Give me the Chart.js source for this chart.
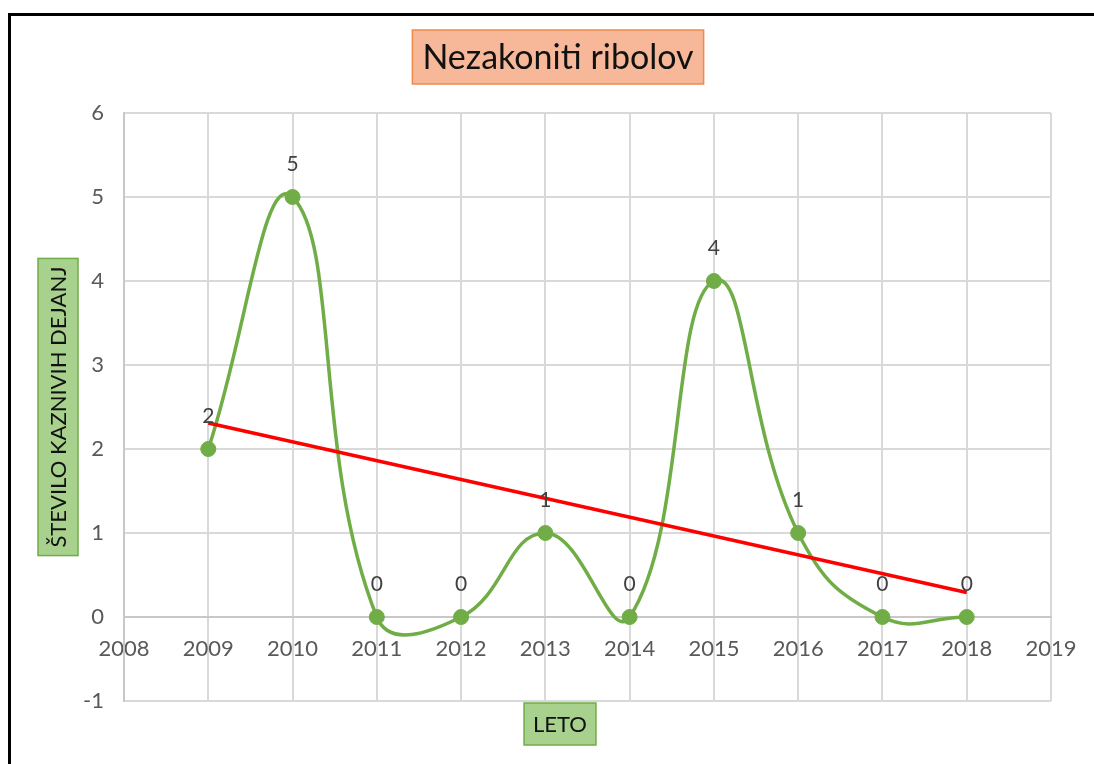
<!DOCTYPE html>
<html>
<head>
<meta charset="utf-8">
<title>Nezakoniti ribolov</title>
<script src="https://cdn.jsdelivr.net/npm/chart.js@4.4.0/dist/chart.umd.min.js"></script>
<style>
    html, body { margin: 0; padding: 0; background: #fff; overflow: hidden; }
    #wrap { position: relative; width: 1094px; height: 764px; }
    #wrap canvas { position: absolute; left: 0; top: 0; }
    #frame { position: absolute; left: 8px; top: 13px; width: 1200px; height: 900px;
             border-top: 3px solid #000; border-left: 3px solid #000; pointer-events: none; }
</style>
</head>
<body>
<div id="wrap">
    <canvas id="ribolovChart" width="1094" height="764"></canvas>
    <div id="frame"></div>
</div>
<script>
var chartTitle = 'Nezakoniti ribolov';
var xTitle = 'LETO';
var yTitle = 'ŠTEVILO KAZNIVIH DEJANJ';

var years = [2009, 2010, 2011, 2012, 2013, 2014, 2015, 2016, 2017, 2018];
var offences = [2, 5, 0, 0, 1, 0, 4, 1, 0, 0];

var xRange = [2008, 2019];
var yRange = [-1, 6];

var fontFamily = 'Lato, "Open Sans", sans-serif';

// linear trendline (least squares), like Excel's "Linear" trendline
function trendPoints(xs, ys) {
    var n = xs.length, sx = 0, sy = 0, sxx = 0, sxy = 0;
    for (var i = 0; i < n; i++) {
        sx += xs[i]; sy += ys[i];
        sxx += xs[i] * xs[i]; sxy += xs[i] * ys[i];
    }
    var b = (n * sxy - sx * sy) / (n * sxx - sx * sx);
    var a = (sy - b * sx) / n;
    return [
        { x: xs[0], y: a + b * xs[0] },
        { x: xs[n - 1], y: a + b * xs[n - 1] }
    ];
}

function drawTag(ctx, text, cx, cy, vertical, size, padX, boxH, fill, stroke) {
    ctx.save();
    ctx.translate(cx, cy);
    if (vertical) ctx.rotate(-Math.PI / 2);
    ctx.font = size + 'px ' + fontFamily;
    var w = ctx.measureText(text).width + padX * 2;
    ctx.fillStyle = fill;
    ctx.fillRect(-w / 2, -boxH / 2, w, boxH);
    ctx.strokeStyle = stroke;
    ctx.lineWidth = 1.5;
    ctx.strokeRect(-w / 2, -boxH / 2, w, boxH);
    ctx.fillStyle = '#111';
    ctx.textAlign = 'center';
    ctx.textBaseline = 'middle';
    ctx.fillText(text, 0, 1);
    ctx.restore();
}

var tagPlugin = {
    id: 'tags',
    afterDraw: function(chart) {
        var ctx = chart.ctx;
        var area = chart.chartArea;
        drawTag(ctx, chartTitle, 558, 57, false, 34, 10, 54, '#f7b89a', '#f0894a');
        drawTag(ctx, yTitle, 58, (area.top + area.bottom) / 2, true, 22, 8, 40, '#a9d18e', '#70ad47');
        drawTag(ctx, xTitle, 560, 724, false, 22, 9, 42, '#a9d18e', '#70ad47');
    }
};

var valueLabels = {
    id: 'valueLabels',
    afterDatasetsDraw: function(chart) {
        var ctx = chart.ctx;
        var meta = chart.getDatasetMeta(1);
        ctx.save();
        ctx.font = '21px ' + fontFamily;
        ctx.fillStyle = '#404040';
        ctx.textAlign = 'center';
        ctx.textBaseline = 'middle';
        meta.data.forEach(function(pt, i) {
            ctx.fillText(String(offences[i]), pt.x, pt.y - 33);
        });
        ctx.restore();
    }
};

document.addEventListener('DOMContentLoaded', function() {
    var ctx = document.getElementById('ribolovChart').getContext('2d');

    var points = years.map(function(y, i) { return { x: y, y: offences[i] }; });

    new Chart(ctx, {
        type: 'line',
        data: {
            datasets: [{
                label: 'Trend',
                data: trendPoints(years, offences),
                borderColor: '#ff0000',
                borderWidth: 3.5,
                pointRadius: 0,
                tension: 0,
                order: 0
            }, {
                label: 'Nezakoniti ribolov',
                data: points,
                borderColor: '#70ad47',
                backgroundColor: '#70ad47',
                borderWidth: 3.5,
                pointRadius: 7.5,
                pointBorderWidth: 1,
                tension: 0.45,
                order: 1
            }]
        },
        options: {
            responsive: false,
            animation: false,
            layout: { padding: { left: 84, top: 113, right: 43, bottom: 63 } },
            plugins: {
                legend: { display: false },
                tooltip: { enabled: false }
            },
            scales: {
                x: {
                    type: 'linear',
                    position: { y: 0 },
                    min: xRange[0],
                    max: xRange[1],
                    afterFit: function(scale) {
                        scale.paddingLeft = 0;
                        scale.paddingRight = 0;
                    },
                    ticks: {
                        stepSize: 1,
                        padding: 19,
                        color: '#595959',
                        font: { family: fontFamily, size: 22 },
                        callback: function(v) { return String(v); }
                    },
                    grid: { color: '#d9d9d9', lineWidth: 2, drawTicks: false },
                    border: { display: true, color: '#c8c8c8', width: 2 }
                },
                y: {
                    min: yRange[0],
                    max: yRange[1],
                    afterFit: function(scale) { scale.width = 40; },
                    ticks: {
                        stepSize: 1,
                        padding: 20,
                        color: '#595959',
                        font: { family: fontFamily, size: 22 }
                    },
                    grid: { color: '#d9d9d9', lineWidth: 2, drawTicks: false },
                    border: { display: true, color: '#c8c8c8', width: 2 }
                }
            }
        },
        plugins: [tagPlugin, valueLabels]
    });
});
</script>
</body>
</html>
